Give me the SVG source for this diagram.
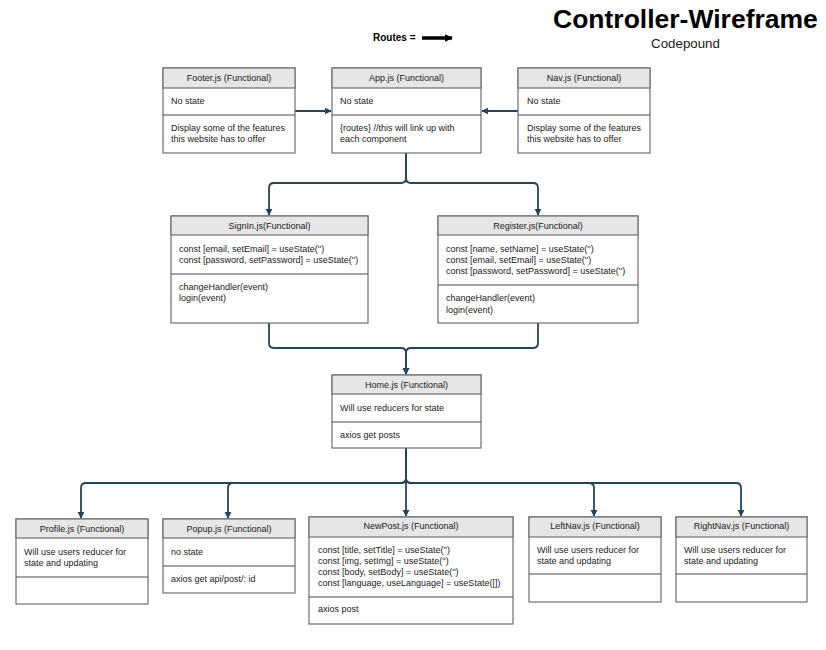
<svg xmlns="http://www.w3.org/2000/svg" width="826" height="650" viewBox="0 0 826 650">
<style>
.box{fill:#ffffff;stroke:#6e6e6e;stroke-width:1.2}
.hd{fill:#e6e6e6;stroke:#6e6e6e;stroke-width:1.2}
.div{stroke:#4a4a4a;stroke-width:1}
.t{font-family:"Liberation Sans",Arial,sans-serif;font-size:9px;fill:#1a1a1a}
.h{font-family:"Liberation Sans",Arial,sans-serif;font-size:9px;fill:#1a1a1a;text-anchor:middle}
.c{fill:none;stroke:#23445d;stroke-width:1.8}
</style>
<defs>
<marker id="arr" viewBox="0 0 10 10" refX="9" refY="5" markerWidth="4" markerHeight="4" orient="auto" markerUnits="strokeWidth">
<path d="M0,0 L10,5 L0,10 z" fill="#23445d"/>
</marker>
<marker id="blk" viewBox="0 0 10 10" refX="9" refY="5" markerWidth="2.6" markerHeight="2.2" orient="auto" markerUnits="strokeWidth">
<path d="M0,0 L10,5 L0,10 z" fill="#000"/>
</marker>
</defs>

<rect width="826" height="650" fill="#ffffff"/>

<g id="title">
<text x="553" y="28" font-family="Liberation Sans,Arial,sans-serif" font-weight="bold" font-size="26.5" fill="#000">Controller-Wireframe</text>
<text x="685.5" y="48" text-anchor="middle" font-family="Liberation Sans,Arial,sans-serif" font-size="13.3" fill="#1a1a1a">Codepound</text>
</g>

<g id="legend">
<text x="373" y="41" font-family="Liberation Sans,Arial,sans-serif" font-weight="bold" font-size="10" fill="#000">Routes =</text>
<line x1="422" y1="38" x2="452" y2="38" stroke="#000" stroke-width="3.5" marker-end="url(#blk)"/>
</g>

<g id="connectors">
<path class="c" d="M295,111 L331,111" marker-end="url(#arr)"/>
<path class="c" d="M518,111 L482,111" marker-end="url(#arr)"/>
<path class="c" d="M406,153 L406,178 Q406,183 401,183 L274,183 Q269,183 269,188 L269,215" marker-end="url(#arr)"/>
<path class="c" d="M406,153 L406,178 Q406,183 411,183 L533,183 Q538,183 538,188 L538,215" marker-end="url(#arr)"/>
<path class="c" d="M269,323 L269,343 Q269,348 274,348 L401,348 Q406,348 406,353 L406,374" marker-end="url(#arr)"/>
<path class="c" d="M538,323 L538,343 Q538,348 533,348 L411,348 Q406,348 406,353 L406,374" marker-end="url(#arr)"/>
<path class="c" d="M406,448 L406,478 Q406,483 401,483 L86,483 Q81,483 81,488 L81,518" marker-end="url(#arr)"/>
<path class="c" d="M406,448 L406,478 Q406,483 401,483 L233,483 Q228,483 228,488 L228,518" marker-end="url(#arr)"/>
<path class="c" d="M406,448 L406,516" marker-end="url(#arr)"/>
<path class="c" d="M406,448 L406,478 Q406,483 411,483 L589,483 Q594,483 594,488 L594,516" marker-end="url(#arr)"/>
<path class="c" d="M406,448 L406,478 Q406,483 411,483 L736,483 Q741,483 741,488 L741,516" marker-end="url(#arr)"/>
</g>

<g id="footer">
<rect class="box" x="163" y="68" width="132" height="85"/>
<rect class="hd" x="163" y="68" width="132" height="20"/>
<line class="div" x1="163" y1="115" x2="295" y2="115"/>
<text class="h" x="229" y="81">Footer.js (Functional)</text>
<text class="t" x="171" y="104">No state</text>
<text class="t" x="171" y="131">Display some of the features</text>
<text class="t" x="171" y="142">this website has to offer</text>
</g>

<g id="app">
<rect class="box" x="332" y="68" width="149" height="85"/>
<rect class="hd" x="332" y="68" width="149" height="20"/>
<line class="div" x1="332" y1="115" x2="481" y2="115"/>
<text class="h" x="406.5" y="81">App.js (Functional)</text>
<text class="t" x="340" y="104">No state</text>
<text class="t" x="340" y="131">{routes} //this will link up with</text>
<text class="t" x="340" y="142">each component</text>
</g>

<g id="nav">
<rect class="box" x="518" y="68" width="132" height="85"/>
<rect class="hd" x="518" y="68" width="132" height="20"/>
<line class="div" x1="518" y1="115" x2="650" y2="115"/>
<text class="h" x="584" y="81">Nav.js (Functional)</text>
<text class="t" x="527" y="104">No state</text>
<text class="t" x="527" y="131">Display some of the features</text>
<text class="t" x="527" y="142">this website has to offer</text>
</g>

<g id="signin">
<rect class="box" x="171" y="216" width="197" height="107"/>
<rect class="hd" x="171" y="216" width="197" height="19"/>
<line class="div" x1="171" y1="274" x2="368" y2="274"/>
<text class="h" x="269.5" y="229">SignIn.js(Functional)</text>
<text class="t" x="179" y="252">const [email, setEmail] = useState('')</text>
<text class="t" x="179" y="263">const [password, setPassword] = useState('')</text>
<text class="t" x="179" y="290">changeHandler(event)</text>
<text class="t" x="179" y="301">login(event)</text>
</g>

<g id="register">
<rect class="box" x="438" y="216" width="200" height="107"/>
<rect class="hd" x="438" y="216" width="200" height="19"/>
<line class="div" x1="438" y1="285" x2="638" y2="285"/>
<text class="h" x="538" y="229">Register.js(Functional)</text>
<text class="t" x="446" y="252">const [name, setName] = useState('')</text>
<text class="t" x="446" y="263">const [email, setEmail] = useState('')</text>
<text class="t" x="446" y="274">const [password, setPassword] = useState('')</text>
<text class="t" x="446" y="301">changeHandler(event)</text>
<text class="t" x="446" y="313">login(event)</text>
</g>

<g id="home">
<rect class="box" x="332" y="375" width="149" height="73"/>
<rect class="hd" x="332" y="375" width="149" height="19"/>
<line class="div" x1="332" y1="422" x2="481" y2="422"/>
<text class="h" x="406.5" y="388">Home.js (Functional)</text>
<text class="t" x="340" y="411">Will use reducers for state</text>
<text class="t" x="340" y="438">axios get posts</text>
</g>

<g id="profile">
<rect class="box" x="16" y="519" width="132" height="85"/>
<rect class="hd" x="16" y="519" width="132" height="19"/>
<line class="div" x1="16" y1="577" x2="148" y2="577"/>
<text class="h" x="82" y="532">Profile.js (Functional)</text>
<text class="t" x="24" y="555">Will use users reducer for</text>
<text class="t" x="24" y="566">state and updating</text>
</g>

<g id="popup">
<rect class="box" x="163" y="519" width="132" height="74"/>
<rect class="hd" x="163" y="519" width="132" height="19"/>
<line class="div" x1="163" y1="566" x2="295" y2="566"/>
<text class="h" x="229" y="532">Popup.js (Functional)</text>
<text class="t" x="171" y="555">no state</text>
<text class="t" x="171" y="582">axios get api/post/: id</text>
</g>

<g id="newpost">
<rect class="box" x="309" y="517" width="204" height="107"/>
<rect class="hd" x="309" y="517" width="204" height="20"/>
<line class="div" x1="309" y1="597" x2="513" y2="597"/>
<text class="h" x="411" y="529">NewPost.js (Functional)</text>
<text class="t" x="318" y="553">const [title, setTitle] = useState('')</text>
<text class="t" x="318" y="564">const [img, setImg] = useState('')</text>
<text class="t" x="318" y="575">const [body, setBody] = useState('')</text>
<text class="t" x="318" y="586">const [language, useLanguage] = useState([])</text>
<text class="t" x="318" y="612">axios post</text>
</g>

<g id="leftnav">
<rect class="box" x="529" y="517" width="132" height="85"/>
<rect class="hd" x="529" y="517" width="132" height="20"/>
<line class="div" x1="529" y1="574" x2="661" y2="574"/>
<text class="h" x="595" y="529">LeftNav.js (Functional)</text>
<text class="t" x="537" y="553">Will use users reducer for</text>
<text class="t" x="537" y="564">state and updating</text>
</g>

<g id="rightnav">
<rect class="box" x="676" y="517" width="131" height="85"/>
<rect class="hd" x="676" y="517" width="131" height="20"/>
<line class="div" x1="676" y1="574" x2="807" y2="574"/>
<text class="h" x="741.5" y="529">RightNav.js (Functional)</text>
<text class="t" x="684" y="553">Will use users reducer for</text>
<text class="t" x="684" y="564">state and updating</text>
</g>
</svg>
